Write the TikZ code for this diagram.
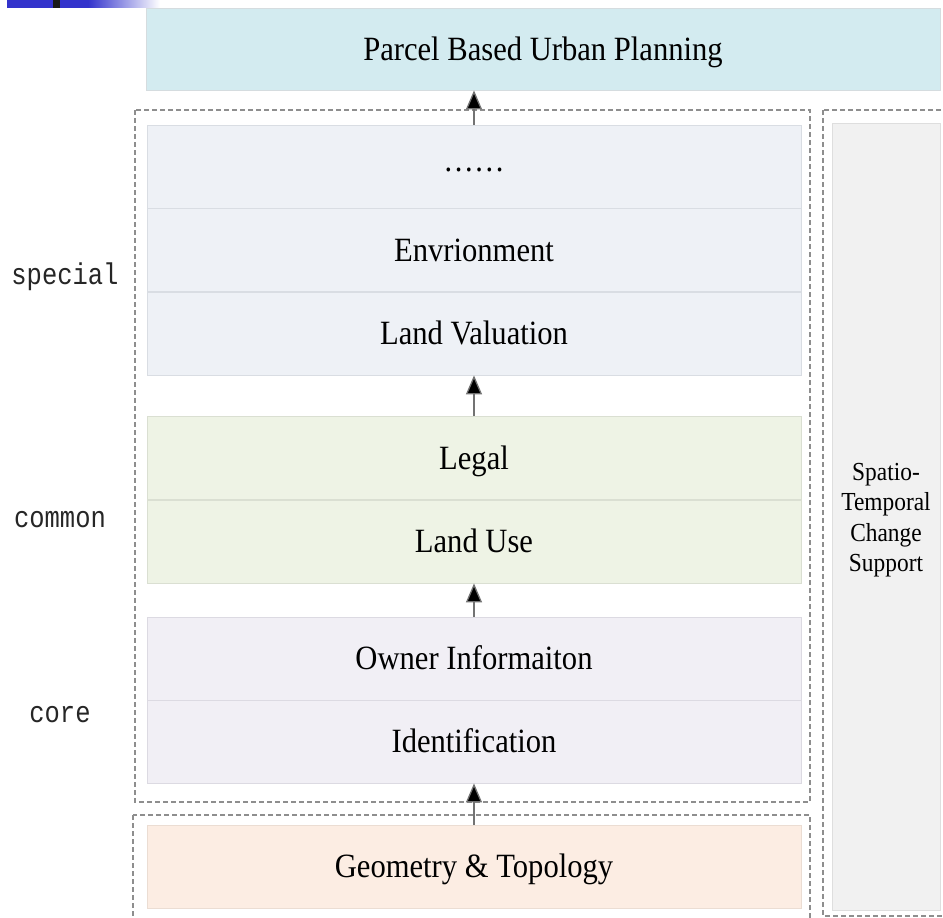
\documentclass[tikz,border=0pt]{standalone}
\usepackage{fontspec}
\setmainfont[FakeStretch=0.9]{Liberation Serif}
\newfontfamily\labmono[FakeStretch=0.85]{Liberation Mono}
\usetikzlibrary{arrows.meta}
\definecolor{topfill}{HTML}{D3EBF0}
\definecolor{topline}{HTML}{D5DCDF}
\definecolor{specfill}{HTML}{EEF1F6}
\definecolor{specline}{HTML}{D9DDE3}
\definecolor{comfill}{HTML}{EEF3E5}
\definecolor{comline}{HTML}{DADFD2}
\definecolor{corefill}{HTML}{F1EFF5}
\definecolor{coreline}{HTML}{DCDAE2}
\definecolor{peachfill}{HTML}{FCEDE3}
\definecolor{peachline}{HTML}{EBDDD3}
\definecolor{grayfill}{HTML}{F1F1F1}
\definecolor{grayline}{HTML}{DEDEDE}
\definecolor{dashgray}{HTML}{8E8E8E}
\definecolor{slideblue}{HTML}{3333CC}
\tikzset{
  layer/.style={draw=#1line, fill=#1fill, line width=0.8pt,
    minimum width=654pt, minimum height=83pt, inner sep=0pt,
    font=\fontsize{34}{40}\selectfont, text height=23pt, text depth=1pt},
  grp/.style={draw=dashgray, line width=1.5pt, dash pattern=on 5pt off 3pt},
  sidelab/.style={font=\labmono\fontsize{30}{32}\selectfont, text=black!85, inner sep=0pt},
  arr/.style={draw=black!55, line width=1.3pt,
    -{Triangle[length=19pt,width=16pt,fill=black]}},
}
\begin{document}
\begin{tikzpicture}[x=1pt,y=-1pt]
\useasboundingbox (0,0) rectangle (943,918);
\clip (0,0) rectangle (943,918);
% slide decoration
\shade[left color=slideblue, right color=slideblue] (7,0) rectangle (88,7);
\shade[left color=slideblue, right color=white] (88,0) rectangle (160,7);
\fill[black!90] (53,0) rectangle (60,8);
% dashed groups
\draw[grp] (135,110) rectangle (810,802);
\draw[grp] (133,815) rectangle (810,940);
\draw[grp] (823,110) rectangle (960,916);
% top box
\node[draw=topline, fill=topfill, line width=0.8pt, minimum width=794pt, minimum height=82pt,
  inner sep=0pt, font=\fontsize{34}{40}\selectfont, text height=23pt, text depth=1pt]
  (top) at (543,49) {Parcel Based Urban Planning};
% special
\node[layer=spec] (dots) at (474,166.5) {\raisebox{6pt}{……}};
\node[layer=spec] (env) at (474,250) {Envrionment};
\node[layer=spec] (val) at (474,333.5) {Land Valuation};
% common
\node[layer=com] (legal) at (474,458) {Legal};
\node[layer=com] (use) at (474,541.5) {Land Use};
% core
\node[layer=core] (owner) at (474,658.5) {Owner Informaiton};
\node[layer=core] (ident) at (474,741.5) {Identification};
% geometry
\node[layer=peach] (geo) at (474,866.5) {Geometry \& Topology};
% side column
\node[draw=grayline, fill=grayfill, line width=0.8pt, minimum width=108pt, minimum height=787pt,
  inner sep=0pt] (side) at (886,516.5) {};
\node[align=center, font=\fontsize{26}{30.5}\selectfont, inner sep=0pt] (sidetxt) at (886,520)
  {Spatio-\\Temporal\\Change\\Support};
% labels
\node[sidelab] (lspecial) at (65,277) {special};
\node[sidelab] (lcommon) at (60,520) {common};
\node[sidelab] (lcore) at (60,715) {core};
% arrows
\draw[arr] (dots.north) -- (dots.north |- top.south);
\draw[arr] (legal.north) -- (val.south);
\draw[arr] (owner.north) -- (use.south);
\draw[arr] (geo.north) -- (ident.south);
\end{tikzpicture}
\end{document}
